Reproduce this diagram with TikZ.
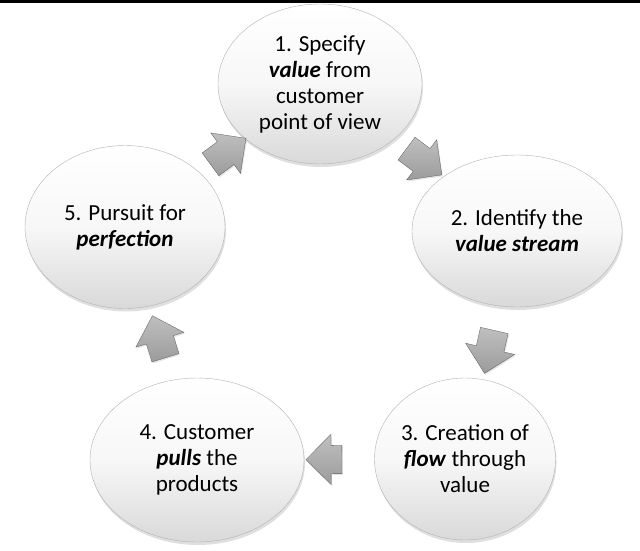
\documentclass[tikz,border=0pt]{standalone}
\usepackage{fontspec}
\setmainfont{Carlito}
\usetikzlibrary{shapes.geometric,shapes.arrows,shadows}

\begin{document}
\begin{tikzpicture}[x=1pt,y=-1pt,
      every node/.append style={font=\fontsize{23}{26}\selectfont,align=center},
      stage/.style={ellipse,inner sep=0pt,draw=gray!60,line width=0.4pt,
        top color=white,bottom color=gray!30,middle color=gray!6,
        drop shadow={shadow xshift=1pt,shadow yshift=-3pt,opacity=0.25}},
      turn/.style={single arrow,inner xsep=0pt,inner ysep=14pt,minimum height=44pt,
        single arrow head extend=11pt,single arrow tip angle=90,
        draw=gray!70!black,line width=0.3pt,top color=gray!50,bottom color=gray!78,
        drop shadow={shadow xshift=1pt,shadow yshift=-1.5pt,opacity=0.2},
        sloped,allow upside down}]
    \useasboundingbox (0,0) rectangle (640,550);
    \node (specify) [stage,minimum width=204pt,minimum height=160pt] at (320,84)
      {1. Specify\\ \textbf{\textit{value}} from\\ customer\\ point of view};
    \node (identify) [stage,minimum width=210pt,minimum height=152pt] at (517,231)
      {2. Identify the\\ \textbf{\textit{value stream}}};
    \node (flow) [stage,minimum width=180pt,minimum height=162pt] at (465,459)
      {3. Creation of\\ \textbf{\textit{flow}} through\\ value};
    \node (pull) [stage,minimum width=214pt,minimum height=164pt] at (197,460)
      {4. Customer\\ \textbf{\textit{pulls}} the\\ products};
    \node (perfect) [stage,minimum width=200pt,minimum height=163pt] at (125,227)
      {5. Pursuit for\\ \textbf{\textit{perfection}}};
    % block arrows between the stages
    \path (specify.center) -- node (turn12) [turn] {} (identify.center);
    \path (identify.center) -- node (turn23) [turn] {} (flow.center);
    \path (flow.center) -- node (turn34) [turn,minimum height=36pt] {} (pull.center);
    \path (pull.center) -- node (turn45) [turn] {} (perfect.center);
    \path (perfect.center) -- node (turn51) [turn] {} (specify.center);
    \fill[black] (0,0) rectangle (640,3);
\end{tikzpicture}
\end{document}
